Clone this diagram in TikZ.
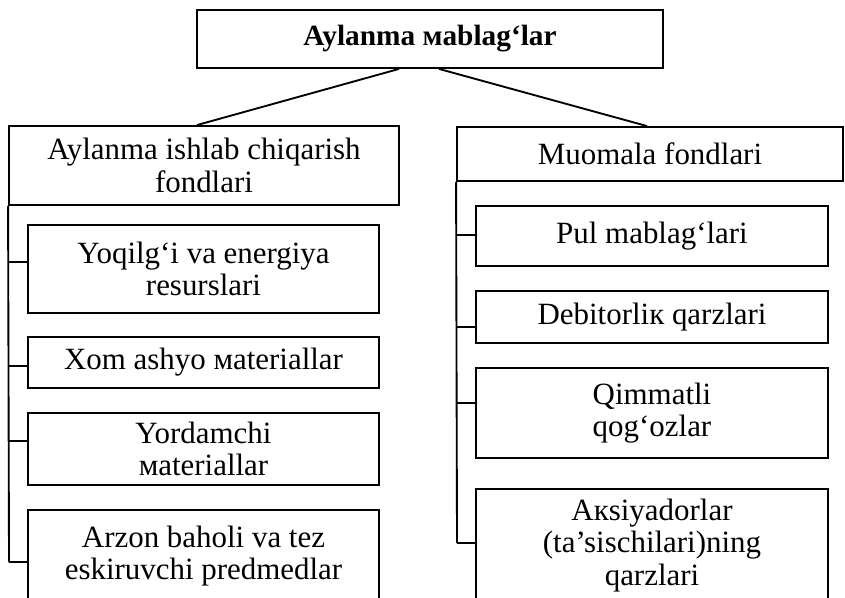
\documentclass[tikz,border=0pt]{standalone}
\usepackage{fontspec}
\setmainfont{Liberation Serif}
\begin{document}
\begin{tikzpicture}[x=0.75pt,y=-0.75pt,
  box/.style={draw, line width=1.4pt, inner sep=0pt, align=center,
    font=\fontsize{23.2}{24.5}\selectfont},
  conn/.style={line width=1.4pt}]
\clip (0,0) rectangle (845,598);
\fill[white] (0,0) rectangle (845,598);
% top
\node[box, minimum width=349.5pt, minimum height=43.5pt, font=\fontsize{22}{24}\selectfont\bfseries] (top) at (430,39) {Aylanma мablag‘lar};
% headers
\node[box, minimum width=292.5pt, minimum height=59.25pt] (lh) at (204,165.5) {Aylanma ishlab chiqarish\\fondlari};
\node[box, minimum width=289.5pt, minimum height=40.5pt] (rh) at (650,154) {Muomala fondlari};
% left boxes
\node[box, minimum width=263.25pt, minimum height=66pt] (b1) at (203.5,269) {Yoqilg‘i va energiya\\resurslari};
\node[box, minimum width=263.25pt, minimum height=38.25pt] (b2) at (203.5,362.5) {Xom ashyo мateriallar};
\node[box, minimum width=263.25pt, minimum height=54pt] (b3) at (203.5,449) {Yordamchi\\мateriallar};
\node[box, minimum width=263.25pt, minimum height=69pt] (b4) at (203.5,556) {Arzon baholi va tez\\eskiruvchi predmedlar};
% right boxes
\node[box, minimum width=264pt, minimum height=45pt] (r1) at (652,236) {Pul mablag‘lari};
\node[box, minimum width=264pt, minimum height=39pt] (r2) at (652,317) {Debitorliк qarzlari};
\node[box, minimum width=264pt, minimum height=67.5pt] (r3) at (652,413) {Qimmatli\\qog‘ozlar};
\node[box, minimum width=264pt, minimum height=84.75pt] (r4) at (652,545.5) {Aкsiyadorlar\\(ta’sischilari)ning\\qarzlari};
% top connectors
\draw[conn] ([xshift=-23.25pt]top.south) -- ([xshift=-5.25pt]lh.north);
\draw[conn] ([xshift=6.75pt]top.south) -- ([xshift=-2.25pt]rh.north);
% left spine and ticks
\coordinate (tL1) at (9,262);
\coordinate (tL2) at (9,366);
\coordinate (tL3) at (9,441);
\coordinate (tL4) at (9,562);
\draw[conn] (lh.south west) -- (tL4);
\draw[conn] (tL1) -- (tL1 -| b1.west);
\draw[conn] (tL2) -- (tL2 -| b2.west);
\draw[conn] (tL3) -- (tL3 -| b3.west);
\draw[conn] (tL4) -- (tL4 -| b4.west);
% right spine and ticks
\coordinate (tR1) at (457,235);
\coordinate (tR2) at (457,327);
\coordinate (tR3) at (457,403);
\coordinate (tR4) at (457,543);
\draw[conn] (rh.south west) -- (tR4);
\draw[conn] (tR1) -- (tR1 -| r1.west);
\draw[conn] (tR2) -- (tR2 -| r2.west);
\draw[conn] (tR3) -- (tR3 -| r3.west);
\draw[conn] (tR4) -- (tR4 -| r4.west);
\end{tikzpicture}
\end{document}
